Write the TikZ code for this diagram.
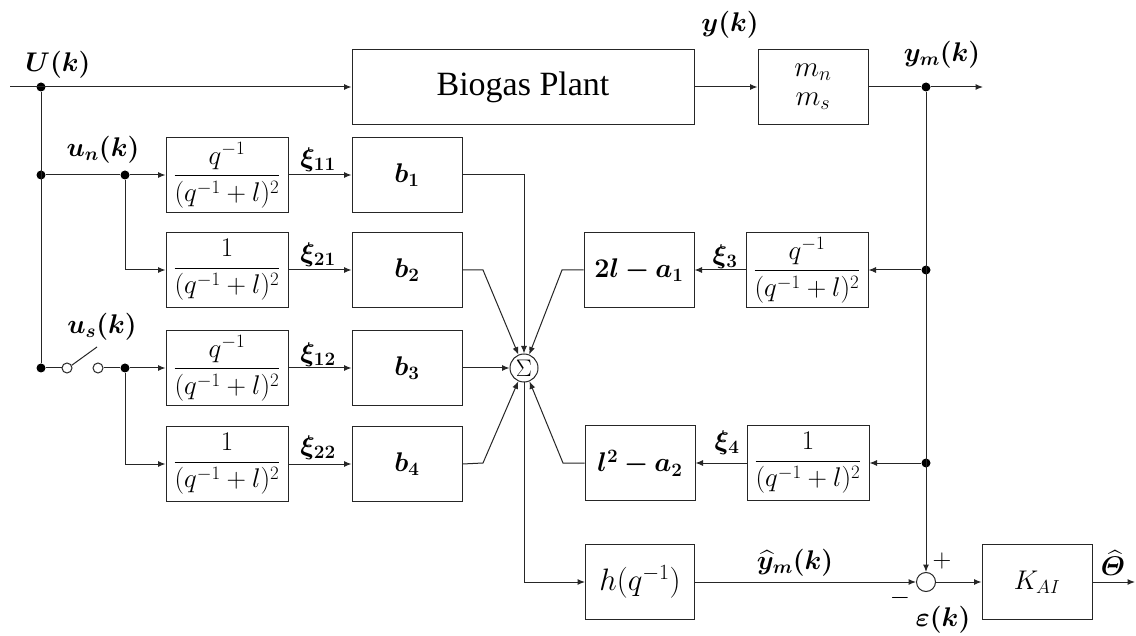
\RequirePackage{fix-cm}
\documentclass[tikz,border=0pt]{standalone}
\usepackage{amsmath,bm}
\usepackage{fontspec}
\newfontfamily\tnr{Liberation Serif}
\usetikzlibrary{arrows.meta}
\begin{document}
\begin{tikzpicture}[x=1pt,y=-1pt,
  line width=1pt, draw=black!85,
  >={Latex[length=7.5pt,width=6pt]},
  blk/.style={draw, minimum width=110pt, minimum height=75pt, inner sep=0pt,
     font=\fontsize{27}{31}\selectfont},
  fbk/.style={draw, minimum width=122pt, minimum height=75pt, inner sep=0pt,
     font=\fontsize{27}{31}\selectfont},
  dotn/.style={circle, fill=black, inner sep=0pt, minimum size=9pt},
  odot/.style={circle, draw, fill=white, inner sep=0pt, minimum size=10pt},
  lbl/.style={inner sep=0pt, font=\fontsize{27}{31}\selectfont},
  sml/.style={inner sep=0pt, font=\fontsize{26}{30}\selectfont}
]
\fill[white] (0,0) rectangle (1136,636);
\useasboundingbox (0,0) rectangle (1136,636);

% top row
\coordinate (in) at (10,87);
\node[dotn] (dU) at (41,87) {};
\node[blk, minimum width=342pt, font=\tnr\fontsize{34}{40}\selectfont] (plant) at (523,87) {Biogas Plant};
\node[blk, font=\fontsize{29}{29}\selectfont, align=center] (ms) at (813,87) {$m_n$\\[0pt]$m_s$};
\node[dotn] (dYm) at (926,87) {};
\coordinate (yout) at (983,87);

% input branches
\node[dotn] (dUn) at (41,175) {};
\node[dotn] (dUn2) at (125,175) {};
\node[dotn] (dS) at (41,368) {};
\node[odot] (s1) at (67,368) {};
\node[odot] (s2) at (98,368) {};
\coordinate (lev) at (97,347);
\node[dotn] (dUs) at (125,368) {};

% filter boxes
\node[fbk] (f11) at (227,175) {$\dfrac{q^{-1}}{(q^{-1}+l)^2}$};
\node[fbk] (f21) at (227,270) {$\dfrac{1}{(q^{-1}+l)^2}$};
\node[fbk] (f12) at (227,368) {$\dfrac{q^{-1}}{(q^{-1}+l)^2}$};
\node[fbk] (f22) at (227,464) {$\dfrac{1}{(q^{-1}+l)^2}$};

% b boxes
\node[blk] (b1) at (407,175) {$\bm{b_1}$};
\node[blk] (b2) at (407,270) {$\bm{b_2}$};
\node[blk] (b3) at (407,368) {$\bm{b_3}$};
\node[blk] (b4) at (407,464) {$\bm{b_4}$};

% summation
\node[circle, draw, minimum size=28pt, inner sep=0pt, font=\fontsize{24}{28}\selectfont] (sig) at (524,368) {$\Sigma$};

% a boxes and feedback filters
\node[blk] (a1) at (639,270) {$\bm{2l-a_1}$};
\node[blk] (a2) at (640,463) {$\bm{l^2-a_2}$};
\node[fbk] (g1) at (807,270) {$\dfrac{q^{-1}}{(q^{-1}+l)^2}$};
\node[fbk] (g2) at (808,463) {$\dfrac{1}{(q^{-1}+l)^2}$};
\node[dotn] (dF1) at (926,270) {};
\node[dotn] (dF2) at (926,463) {};

% bottom
\node[blk, minimum width=109pt, font=\fontsize{31}{35}\selectfont] (h) at (640,582) {$h(q^{-1})$};
\node[circle, draw, minimum size=19pt, inner sep=0pt] (sum) at (926,582) {};
\node[blk, font=\fontsize{27}{31}\selectfont] (kai) at (1037,582) {$K_{AI}$};
\coordinate (out) at (1135,582);

% bend points
\coordinate (k2) at (483,270);
\coordinate (k4) at (483,463);
\coordinate (k5) at (562,270);
\coordinate (k6) at (563,463);

% connectors
\draw[->] (in) -- (plant.west);
\draw (dU) -- (dS);
\draw[->] (plant) -- (ms);
\draw (ms) -- (dYm);
\draw[->] (dYm) -- (yout);
\draw (dUn) -- (dUn2);
\draw[->] (dUn2) -- (f11);
\draw[->] (dUn2) |- (f21);
\draw (dS) -- (s1);
\draw (s1.30) -- (lev);
\draw (s2) -- (dUs);
\draw[->] (dUs) -- (f12);
\draw[->] (dUs) |- (f22);
\draw[->] (f11) -- (b1);
\draw[->] (f21) -- (b2);
\draw[->] (f12) -- (b3);
\draw[->] (f22) -- (b4);
\draw[->] (b1.east) -| (sig.north);
\draw[->] (b2.east) -- (k2) -- (sig);
\draw[->] (b3) -- (sig);
\draw[->] (b4.east) -- (k4) -- (sig);
\draw[->] (a1.west) -- (k5) -- (sig);
\draw[->] (a2.west) -- (k6) -- (sig);
\draw[->] (sig.south) |- (h.west);
\draw[->] (h) -- (sum);
\draw[->] (dYm) -- (sum.north);
\draw[->] (dF1) -- (g1);
\draw[->] (g1) -- (a1);
\draw[->] (dF2) -- (g2);
\draw[->] (g2) -- (a2);
\draw[->] (sum) -- (kai);
\draw[->] (kai) -- (out);

% labels
\node[lbl] (lU) at (58,65) {$\bm{U(k)}$};
\node[lbl] (lun) at (103,150) {$\bm{u_n(k)}$};
\node[lbl] (lus) at (102,327) {$\bm{u_s(k)}$};
\node[lbl] (x11) at (318,160) {$\bm{\xi_{11}}$};
\node[lbl] (x21) at (318,255) {$\bm{\xi_{21}}$};
\node[lbl] (x12) at (318,355) {$\bm{\xi_{12}}$};
\node[lbl] (x22) at (318,448) {$\bm{\xi_{22}}$};
\node[lbl] (ly) at (730,25) {$\bm{y(k)}$};
\node[lbl] (lym) at (942,55) {$\bm{y_m(k)}$};
\node[lbl] (x3) at (725,257) {$\bm{\xi_3}$};
\node[lbl] (x4) at (727,443) {$\bm{\xi_4}$};
\node[lbl] (lyh) at (795,563) {$\widehat{\bm{y}}_{\bm{m}}\bm{(k)}$};
\node[sml] (lp) at (942,561) {$+$};
\node[sml] (lm) at (900,598) {$-$};
\node[lbl] (le) at (943,620) {$\bm{\varepsilon(k)}$};
\node[lbl] (lth) at (1113,563) {$\widehat{\bm{\varTheta}}$};
\end{tikzpicture}
\end{document}
